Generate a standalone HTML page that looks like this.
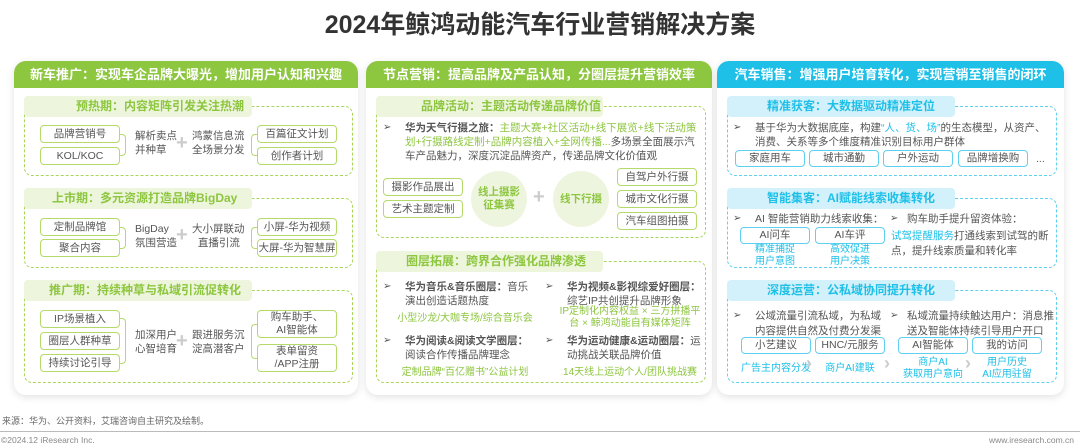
<!DOCTYPE html>
<html><head><meta charset="utf-8"><style>
*{margin:0;padding:0;box-sizing:border-box}
body{width:1080px;height:448px;background:#fff;position:relative;overflow:hidden;font-family:"Liberation Sans","Noto Sans CJK SC",sans-serif;color:#555}
.a{position:absolute}
.card{position:absolute;background:#fff;border-radius:12px;box-shadow:0 2px 8px rgba(0,0,0,.12);overflow:hidden}
.hd{position:absolute;left:0;right:0;top:0;height:27px;color:#fff;font-weight:bold;font-size:13px;text-align:center;line-height:27px}
.g .hd{background:#8dc63f}.b .hd{background:#1ec0e8}
.band{position:absolute;height:21px;border-radius:4px;font-weight:bold;font-size:12px;line-height:21px;padding-left:52px}
.gb{background:#edf5dc;color:#8dc63f}.bb{background:#d3f1fa;color:#1ec0e8}
.dash{position:absolute;border:1.5px dashed #a8d55a;border-radius:8px}
.dashb{border-color:#5fd0ef}
.bx{position:absolute;border:1.5px solid #b5d96a;border-radius:4px;font-size:10.5px;text-align:center;color:#555;display:flex;align-items:center;justify-content:center;line-height:13px;background:#fff}
.bxb{border-color:#5fd0ef}
.t{position:absolute;font-size:10.5px;color:#555;line-height:14px}
.gt{color:#8dc63f}.bt{color:#1ec0e8}
.plus{position:absolute;color:#ccc;font-size:20px;font-weight:bold}
.br{position:absolute;border:1.5px solid #b5d96a;width:6px}
.bl{border-left:none;border-radius:0 4px 4px 0}
.brr{border-right:none;border-radius:4px 0 0 4px}
.circ{position:absolute;width:56px;height:56px;border-radius:50%;background:#eef5df;color:#8dc63f;font-weight:bold;font-size:10.5px;display:flex;align-items:center;justify-content:center;text-align:center;line-height:13px}
</style></head><body>
<div class="a" style="left:0;top:5px;width:1080px;text-align:center;font-size:25px;font-weight:bold;color:#333">2024年鲸鸿动能汽车行业营销解决方案</div>

<!-- col1 -->
<div class="card g" style="left:14px;top:61px;width:344px;height:334px"><div class="hd">新车推广：实现车企品牌大曝光，增加用户认知和兴趣</div></div>
<div class="dash" style="left:24px;top:106px;width:329px;height:70px"></div>
<div class="band gb" style="left:24px;top:96px;width:228px">预热期：内容矩阵引发关注热潮</div>
<div class="bx" style="left:40px;top:125px;width:80px;height:18px">品牌营销号</div>
<div class="bx" style="left:40px;top:147px;width:80px;height:18px">KOL/KOC</div>
<div class="br bl" style="left:120px;top:134px;height:22px"></div>
<div class="t" style="left:135px;top:129px">解析卖点<br>并种草</div>
<div class="plus" style="left:176px;top:132px">+</div>
<div class="t" style="left:192px;top:129px">鸿蒙信息流<br>全场景分发</div>
<div class="br brr" style="left:251px;top:134px;height:22px"></div>
<div class="bx" style="left:257px;top:125px;width:80px;height:18px">百篇征文计划</div>
<div class="bx" style="left:257px;top:147px;width:80px;height:18px">创作者计划</div>

<div class="dash" style="left:24px;top:198px;width:329px;height:70px"></div>
<div class="band gb" style="left:24px;top:188px;width:228px;padding-left:28px">上市期：多元资源打造品牌BigDay</div>
<div class="bx" style="left:40px;top:218px;width:80px;height:18px">定制品牌馆</div>
<div class="bx" style="left:40px;top:239px;width:80px;height:18px">聚合内容</div>
<div class="br bl" style="left:120px;top:227px;height:22px"></div>
<div class="t" style="left:135px;top:222px">BigDay<br>氛围营造</div>
<div class="plus" style="left:176px;top:224px">+</div>
<div class="t" style="left:192px;top:222px">大小屏联动<br>&nbsp;&nbsp;直播引流</div>
<div class="br brr" style="left:251px;top:227px;height:22px"></div>
<div class="bx" style="left:257px;top:218px;width:80px;height:18px">小屏-华为视频</div>
<div class="bx" style="left:257px;top:239px;width:80px;height:18px">大屏-华为智慧屏</div>

<div class="dash" style="left:24px;top:290px;width:329px;height:93px"></div>
<div class="band gb" style="left:24px;top:280px;width:228px;padding-left:25px">推广期：持续种草与私域引流促转化</div>
<div class="bx" style="left:40px;top:310px;width:80px;height:18px">IP场景植入</div>
<div class="bx" style="left:40px;top:332px;width:80px;height:18px">圈层人群种草</div>
<div class="bx" style="left:40px;top:354px;width:80px;height:18px">持续讨论引导</div>
<div class="br bl" style="left:120px;top:318px;height:46px"></div>
<div class="t" style="left:135px;top:328px">加深用户<br>心智培育</div>
<div class="plus" style="left:176px;top:330px">+</div>
<div class="t" style="left:192px;top:328px">跟进服务沉<br>淀高潜客户</div>
<div class="br brr" style="left:251px;top:324px;height:35px"></div>
<div class="bx" style="left:257px;top:310px;width:80px;height:28px">购车助手、<br>AI智能体</div>
<div class="bx" style="left:257px;top:344px;width:80px;height:28px">表单留资<br>/APP注册</div>

<!-- col2 -->
<div class="card g" style="left:366px;top:61px;width:346px;height:334px"><div class="hd">节点营销：提高品牌及产品认知，分圈层提升营销效率</div></div>
<div class="dash" style="left:376px;top:106px;width:330px;height:132px"></div>
<div class="band gb" style="left:376px;top:96px;width:227px;padding-left:45px">品牌活动：主题活动传递品牌价值</div>
<div class="t" style="left:383px;top:121px;font-size:10px">➢</div>
<div class="t" style="left:405px;top:121px;width:292px;font-size:10.5px"><b>华为天气行摄之旅：</b><span class="gt">主题大赛+社区活动+线下展览+线下活动策划+行摄路线定制+品牌内容植入+全网传播...</span>多场景全面展示汽车产品魅力，深度沉淀品牌资产，传递品牌文化价值观</div>
<div class="bx" style="left:383px;top:178px;width:80px;height:18px">摄影作品展出</div>
<div class="bx" style="left:383px;top:200px;width:80px;height:18px">艺术主题定制</div>
<div class="circ" style="left:471px;top:171px">线上摄影<br>征集赛</div>
<div class="plus" style="left:533px;top:186px">+</div>
<div class="circ" style="left:553px;top:171px">线下行摄</div>
<div class="bx" style="left:617px;top:168px;width:80px;height:18px">自驾户外行摄</div>
<div class="bx" style="left:617px;top:190px;width:80px;height:18px">城市文化行摄</div>
<div class="bx" style="left:617px;top:212px;width:80px;height:18px">汽车组图拍摄</div>

<div class="dash" style="left:376px;top:261px;width:330px;height:122px"></div>
<div class="band gb" style="left:376px;top:251px;width:227px;padding-left:30px">圈层拓展：跨界合作强化品牌渗透</div>
<div class="t" style="left:383px;top:280px;font-size:10px">➢</div>
<div class="t" style="left:405px;top:280px;width:130px"><b>华为音乐&amp;音乐圈层：</b>音乐演出创造话题热度</div>
<div class="t gt" style="left:395px;top:312px;width:140px;text-align:center;font-size:10px">小型沙龙/大咖专场/综合音乐会</div>
<div class="t" style="left:545px;top:280px;font-size:10px">➢</div>
<div class="t" style="left:567px;top:280px;width:140px"><b>华为视频&amp;影视综爱好圈层：</b>综艺IP共创提升品牌形象</div>
<div class="t gt" style="left:555px;top:306px;width:150px;text-align:center;font-size:10px;line-height:12px">IP定制化内容权益 × 三方拼播平台 × 鲸鸿动能自有媒体矩阵</div>
<div class="t" style="left:383px;top:334px;font-size:10px">➢</div>
<div class="t" style="left:405px;top:334px;width:130px"><b>华为阅读&amp;阅读文学圈层：</b>阅读合作传播品牌理念</div>
<div class="t gt" style="left:395px;top:366px;width:140px;text-align:center;font-size:10px">定制品牌“百亿赠书”公益计划</div>
<div class="t" style="left:545px;top:334px;font-size:10px">➢</div>
<div class="t" style="left:567px;top:334px;width:140px"><b>华为运动健康&amp;运动圈层：</b>运动挑战关联品牌价值</div>
<div class="t gt" style="left:550px;top:366px;width:160px;text-align:center;font-size:10px">14天线上运动个人/团队挑战赛</div>

<!-- col3 -->
<div class="card b" style="left:717px;top:61px;width:347px;height:334px"><div class="hd">汽车销售：增强用户培育转化，实现营销至销售的闭环</div></div>
<div class="dash dashb" style="left:727px;top:106px;width:330px;height:70px"></div>
<div class="band bb" style="left:727px;top:96px;width:228px;padding-left:40px">精准获客：大数据驱动精准定位</div>
<div class="t" style="left:733px;top:121px;font-size:10px">➢</div>
<div class="t" style="left:755px;top:121px;width:300px">基于华为大数据底座，构建<span class="bt">“人、货、场”</span>的生态模型，从资产、消费、关系等多个维度精准识别目标用户群体</div>
<div class="bx bxb" style="left:735px;top:150px;width:70px;height:17px">家庭用车</div>
<div class="bx bxb" style="left:809px;top:150px;width:70px;height:17px">城市通勤</div>
<div class="bx bxb" style="left:883px;top:150px;width:70px;height:17px">户外运动</div>
<div class="bx bxb" style="left:958px;top:150px;width:70px;height:17px">品牌增换购</div>
<div class="t" style="left:1036px;top:152px">...</div>

<div class="dash dashb" style="left:727px;top:198px;width:330px;height:70px"></div>
<div class="band bb" style="left:727px;top:188px;width:228px;padding-left:40px">智能集客：AI赋能线索收集转化</div>
<div class="t" style="left:733px;top:212px;font-size:10px">➢</div>
<div class="t" style="left:755px;top:212px">AI 智能营销助力线索收集：</div>
<div class="bx bxb" style="left:740px;top:227px;width:70px;height:17px">AI问车</div>
<div class="bx bxb" style="left:815px;top:227px;width:70px;height:17px">AI车评</div>
<div class="t bt" style="left:740px;top:244px;width:70px;text-align:center;font-size:10px;line-height:12px">精准捕捉<br>用户意图</div>
<div class="t bt" style="left:815px;top:244px;width:70px;text-align:center;font-size:10px;line-height:12px">高效促进<br>用户决策</div>
<div class="t" style="left:890px;top:212px;font-size:10px">➢</div>
<div class="t" style="left:907px;top:212px">购车助手提升留资体验：</div>
<div class="t" style="left:891px;top:229px;width:166px;line-height:15px"><span class="bt">试驾提醒服务</span>打通线索到试驾的断点，提升线索质量和转化率</div>

<div class="dash dashb" style="left:727px;top:290px;width:330px;height:93px"></div>
<div class="band bb" style="left:727px;top:280px;width:228px;padding-left:40px">深度运营：公私域协同提升转化</div>
<div class="t" style="left:733px;top:309px;font-size:10px">➢</div>
<div class="t" style="left:755px;top:309px;width:135px;line-height:15px">公域流量引流私域，为私域内容提供自然及付费分发渠道</div>
<div class="t" style="left:890px;top:309px;font-size:10px">➢</div>
<div class="t" style="left:907px;top:309px;width:150px;line-height:15px">私域流量持续触达用户：消息推送及智能体持续引导用户开口</div>
<div class="bx bxb" style="left:741px;top:337px;width:70px;height:17px">小艺建议</div>
<div class="bx bxb" style="left:815px;top:337px;width:70px;height:17px">HNC/元服务</div>
<div class="bx bxb" style="left:898px;top:337px;width:70px;height:17px">AI智能体</div>
<div class="bx bxb" style="left:972px;top:337px;width:70px;height:17px">我的访问</div>
<div class="t bt" style="left:741px;top:362px;width:70px;text-align:center;font-size:10px">广告主内容分发</div>
<div class="t" style="left:806px;top:356px;color:#ccc;font-size:18px;font-weight:bold">›</div>
<div class="t bt" style="left:815px;top:362px;width:70px;text-align:center;font-size:10px">商户AI建联</div>
<div class="t" style="left:884px;top:356px;color:#ccc;font-size:18px;font-weight:bold">›</div>
<div class="t bt" style="left:898px;top:357px;width:70px;text-align:center;font-size:10px;line-height:12px">商户AI<br>获取用户意向</div>
<div class="t" style="left:965px;top:356px;color:#ccc;font-size:18px;font-weight:bold">›</div>
<div class="t bt" style="left:972px;top:357px;width:70px;text-align:center;font-size:10px;line-height:12px">用户历史<br>AI应用驻留</div>

<div class="t" style="left:2px;top:414px;font-size:9px;color:#666">来源：华为、公开资料，艾瑞咨询自主研究及绘制。</div>
<div class="a" style="left:0;top:431px;width:1080px;height:1px;background:#bbb"></div>
<div class="t" style="left:1px;top:433px;font-size:8.5px;color:#888">©2024.12 iResearch Inc.</div>
<div class="t" style="right:6px;top:433px;font-size:8.5px;color:#888">www.iresearch.com.cn</div>
</body></html>
